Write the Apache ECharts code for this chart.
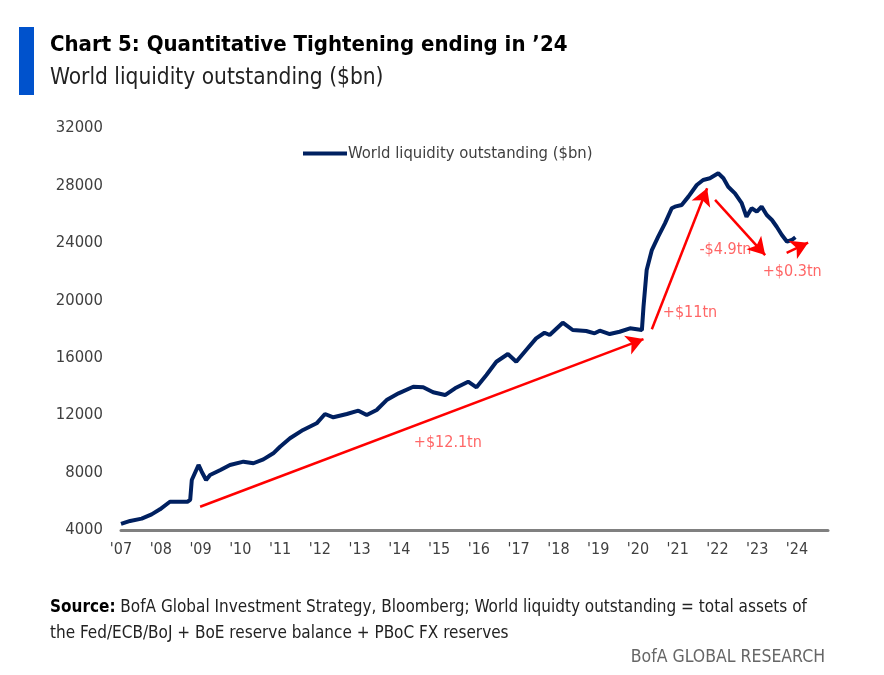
<!DOCTYPE html>
<html>
<head>
<meta charset="utf-8">
<script src="https://cdn.jsdelivr.net/npm/echarts@6/dist/echarts.min.js"></script>
<style>
html,body{margin:0;padding:0;background:#fff;}
#chart{width:884px;height:675px;}
</style>
</head>
<body>
<div id="chart"></div>
<script>
// ---- data ----
const seriesName = "World liquidity outstanding ($bn)";
const years = [
  2007.00,2007.23,2007.52,2007.77,2007.98,2008.23,2008.40,2008.67,2008.74,2008.78,
  2008.95,2009.03,2009.14,2009.24,2009.50,2009.74,2010.08,2010.33,2010.58,2010.83,
  2011.00,2011.25,2011.58,2011.92,2012.13,2012.34,2012.68,2012.97,2013.18,2013.43,
  2013.68,2013.98,2014.35,2014.60,2014.85,2015.15,2015.40,2015.73,2015.94,2016.19,
  2016.44,2016.73,2016.94,2017.19,2017.44,2017.65,2017.78,2018.11,2018.36,2018.70,
  2018.91,2019.04,2019.29,2019.54,2019.80,2020.10,2020.14,2020.22,2020.35,2020.51,
  2020.68,2020.85,2020.93,2021.10,2021.27,2021.48,2021.64,2021.81,2022.02,2022.15,
  2022.27,2022.44,2022.61,2022.73,2022.86,2022.99,2023.11,2023.24,2023.37,2023.49,
  2023.62,2023.75,2023.87,2023.96
];
const liquidity = [
  4420,4630,4790,5090,5440,5970,5970,5970,6100,7480,
  8530,8060,7480,7830,8180,8530,8760,8650,8920,9340,
  9800,10390,10970,11430,12080,11850,12080,12310,12010,12360,
  13050,13520,13980,13940,13590,13400,13870,14330,13940,14800,
  15720,16260,15720,16540,17350,17740,17580,18440,17930,17860,
  17700,17880,17650,17810,18050,17930,19550,22110,23500,24430,
  25360,26410,26520,26640,27220,28030,28380,28500,28850,28500,
  27910,27450,26760,25820,26410,26170,26520,25940,25590,25120,
  24550,24080,24200,24390
];
const yTicks = [4000, 32000, 4000]; // min, max, interval
const xRange = [2007, 2024.78];

// red arrows: start and end points
const arrowFrom = [[2008.99, 5620], [2020.35, 17980], [2021.94, 27000], [2023.74, 23310]];
const arrowTo   = [[2020.14, 17300], [2021.74, 27800], [2023.20, 23150], [2024.28, 24010]];
// annotation labels
const annoText = ["+$12.1tn", "+$11tn", "-$4.9tn", "+$0.3tn"];
const annoPos  = [[2015.22, 10060], [2021.31, 19110], [2022.20, 23500], [2023.88, 22000]];

const FONT = "'DejaVu Sans Condensed','Lato',sans-serif";

const chart = echarts.init(document.getElementById('chart'), null, {renderer:'canvas'});
const lineData = years.map((y,i)=>[y, liquidity[i]]);

chart.setOption({
  animation:false,
  backgroundColor:'#ffffff',
  textStyle:{fontFamily:FONT},
  grid:{left:121, right:56, top:128, bottom:145, containLabel:false},
  legend:{
    data:[{name:seriesName, icon:'rect'}],
    left:298, top:140, itemWidth:44, itemHeight:4, itemGap:5,
    textStyle:{fontFamily:FONT, fontSize:16.5, color:'#404040', padding:[0,0,0,-4]}
  },
  xAxis:{
    type:'value', min:xRange[0], max:xRange[1], interval:1,
    axisLine:{show:true, lineStyle:{color:'#808080', width:3}},
    axisTick:{show:false},
    splitLine:{show:false},
    axisLabel:{
      color:'#404040', fontFamily:FONT, fontSize:16, margin:12,
      showMaxLabel:false,
      formatter:function(v){ return Number.isInteger(v) ? "'" + String(v).slice(2) : ''; }
    }
  },
  yAxis:{
    type:'value', min:yTicks[0], max:yTicks[1], interval:yTicks[2],
    axisLine:{show:false}, axisTick:{show:false}, splitLine:{show:false},
    axisLabel:{color:'#404040', fontFamily:FONT, fontSize:16.5, margin:18,
      formatter:function(v){ return String(v); }}
  },
  series:[
    {
      name:seriesName, type:'line', data:lineData, symbol:'none',
      lineStyle:{color:'#002060', width:4}, itemStyle:{color:'#002060'},
      markLine:{
        silent:true, symbol:['none','arrow'], symbolSize:[15,17],
        label:{show:false},
        lineStyle:{color:'#ff0000', width:2.5, type:'solid'},
        data: arrowFrom.map((f,i)=>[{coord:f},{coord:arrowTo[i]}])
      }
    },
    {
      name:'annotations', type:'scatter', symbolSize:0, silent:true,
      data: annoPos.map((p,i)=>({value:p, name:annoText[i]})),
      label:{show:true, position:'inside', formatter:'{b}', color:'#ff4040', fontFamily:FONT, fontSize:16}
    }
  ],
  graphic:[
    {type:'rect', left:19, top:27, shape:{width:15, height:68}, style:{fill:'#0052cc'}},
    {type:'text', left:50, top:34, style:{text:"Chart 5: Quantitative Tightening ending in \u201924", fontFamily:FONT, fontSize:22, fontWeight:'bold', fill:'#000'}},
    {type:'text', left:50, top:67, style:{text:"World liquidity outstanding ($bn)", fontFamily:FONT, fontSize:22.5, fill:'#222'}},
    {type:'text', left:50, top:595, style:{
      text:"{b|Source:} BofA Global Investment Strategy, Bloomberg; World liquidty outstanding = total assets of\nthe Fed/ECB/BoJ + BoE reserve balance + PBoC FX reserves",
      rich:{b:{fontWeight:'bold', fontFamily:FONT, fontSize:17, fill:'#000'}},
      fontFamily:FONT, fontSize:17, lineHeight:26, fill:'#222'}},
    {type:'text', right:59, top:648, style:{text:"BofA GLOBAL RESEARCH", fontFamily:FONT, fontSize:17.5, fill:'#666'}}
  ]
});
</script>
</body>
</html>
